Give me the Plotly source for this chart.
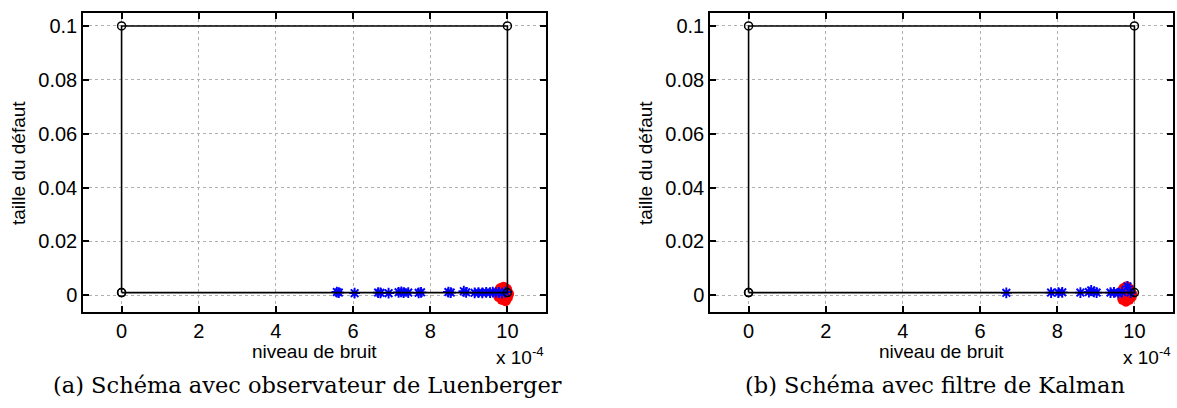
import plotly.graph_objects as go

# ---- data (x in units of 1e-4) ----
rect_x = [0, 0, 10, 10, 0]
rect_y = [0.001, 0.1, 0.1, 0.001, 0.001]

luen_blue_x = [5.58, 5.63, 6.04, 6.65, 6.71, 6.92, 7.18, 7.25, 7.31, 7.43, 7.70, 7.76,
               8.47, 8.53, 8.87, 8.93, 9.15, 9.25, 9.35, 9.45, 9.55, 9.62, 9.70, 9.78, 9.86, 9.95]
luen_blue_y = [0.0012, 0.0010, 0.0008, 0.0010, 0.0009, 0.0008, 0.0011, 0.0013, 0.0010, 0.0010,
               0.0009, 0.0011, 0.0012, 0.0010, 0.0015, 0.0011, 0.0009, 0.0010, 0.0009, 0.0011,
               0.0010, 0.0012, 0.0010, 0.0011, 0.0008, 0.0012]
luen_red_x = [9.74, 9.82, 9.90, 9.98, 10.03, 9.86, 9.95, 9.78, 10.00, 9.90]
luen_red_y = [0.0010, 0.0025, 0.0030, 0.0022, 0.0005, -0.0015, -0.0020, -0.0005, -0.0008, 0.0]

kal_blue_x = [6.68, 7.84, 8.03, 8.13, 8.60, 8.82, 8.88, 8.95, 9.02, 9.38, 9.47, 9.58, 9.68, 9.82, 9.90]
kal_blue_y = [0.0009, 0.0010, 0.0010, 0.0011, 0.0010, 0.0012, 0.0018, 0.0013, 0.0010, 0.0010,
              0.0011, 0.0008, 0.0012, 0.0033, 0.0010]
kal_red_x = [9.66, 9.72, 9.80, 9.88, 9.93, 9.70, 9.78, 9.86, 9.92, 9.80]
kal_red_y = [0.0010, 0.0025, 0.0032, 0.0022, 0.0005, -0.0015, -0.0022, -0.0015, -0.0005, 0.0]

x_ticks = [0, 2, 4, 6, 8, 10]
y_ticks = [0, 0.02, 0.04, 0.06, 0.08, 0.1]
y_ticktext = ["0", "0.02", "0.04", "0.06", "0.08", "0.1"]

x_title = "niveau de bruit"
y_title = "taille du défaut"
captions = ["(a) Schéma avec observateur de Luenberger", "(b) Schéma avec filtre de Kalman"]

W, H = 1177, 408
fig = go.Figure()

panels = [
    (luen_blue_x, luen_blue_y, luen_red_x, luen_red_y, "x", "y"),
    (kal_blue_x, kal_blue_y, kal_red_x, kal_red_y, "x2", "y2"),
]
for bx, by, rx, ry, xa, ya in panels:
    fig.add_trace(go.Scatter(x=rx, y=ry, mode="markers", xaxis=xa, yaxis=ya,
                             marker=dict(symbol="circle", size=11, color="#ff0000",
                                         line=dict(width=0)), showlegend=False))
    fig.add_trace(go.Scatter(x=bx, y=by, mode="markers", xaxis=xa, yaxis=ya,
                             marker=dict(symbol="asterisk-open", size=9, color="#0000ff",
                                         line=dict(width=1.9, color="#0000ff")),
                             showlegend=False))
    fig.add_trace(go.Scatter(x=rect_x, y=rect_y, mode="lines+markers", xaxis=xa, yaxis=ya,
                             line=dict(color="black", width=1.6),
                             marker=dict(symbol="circle-open", size=8, color="black",
                                         line=dict(width=1.5, color="black")),
                             showlegend=False))

ytop = 1 - 13 / H
ybot = 1 - 312 / H
doms = [(83 / W, 546 / W), (710 / W, 1173 / W)]
tickfont = dict(family="Liberation Sans, Arial, sans-serif", size=20, color="black")
axcommon = dict(showline=True, linecolor="black", linewidth=1.5, mirror="ticks",
                ticks="inside", ticklen=6, tickcolor="black", tickwidth=1.5,
                showgrid=True, gridcolor="#b0b0b0", griddash="dot", gridwidth=1,
                zeroline=False, tickfont=tickfont)

fig.update_layout(
    width=W, height=H, margin=dict(l=0, r=0, t=0, b=0),
    paper_bgcolor="white", plot_bgcolor="white",
    xaxis=dict(domain=doms[0], range=[-1, 11], tickvals=x_ticks, anchor="y", **axcommon),
    yaxis=dict(domain=[ybot, ytop], range=[-0.0062, 0.1048], tickvals=y_ticks,
               ticktext=y_ticktext, anchor="x", **axcommon),
    xaxis2=dict(domain=doms[1], range=[-1, 11], tickvals=x_ticks, anchor="y2", **axcommon),
    yaxis2=dict(domain=[ybot, ytop], range=[-0.0062, 0.1048], tickvals=y_ticks,
                ticktext=y_ticktext, anchor="x2", **axcommon),
)

labfont = dict(family="Liberation Sans, Arial, sans-serif", size=19, color="black")
capfont = dict(family="DejaVu Serif, serif", size=22.5, color="black")
ann = []
for i, (d0, d1) in enumerate(doms):
    off = 0 if i == 0 else 627
    ann.append(dict(x=(314 + off) / W, y=1 - 351 / H, xref="paper", yref="paper",
                    text=x_title, showarrow=False, font=labfont, xanchor="center", yanchor="middle"))
    ann.append(dict(x=(18 + off) / W, y=1 - 163 / H, xref="paper", yref="paper",
                    text=y_title, showarrow=False, font=labfont, textangle=-90,
                    xanchor="center", yanchor="middle"))
    ann.append(dict(x=(494 + off) / W, y=1 - 356 / H, xref="paper", yref="paper",
                    text="x 10<sup>-4</sup>", showarrow=False, font=labfont,
                    xanchor="left", yanchor="middle"))
cap_centers = [308, 935]
for c, t in zip(cap_centers, captions):
    ann.append(dict(x=c / W, y=1 - 385 / H, xref="paper", yref="paper", text=t,
                    showarrow=False, font=capfont, xanchor="center", yanchor="middle"))
fig.update_layout(annotations=ann)

fig.write_html("out.html", config={"displayModeBar": False},
               post_script="document.body.style.margin='0px';document.body.style.overflow='hidden';")
